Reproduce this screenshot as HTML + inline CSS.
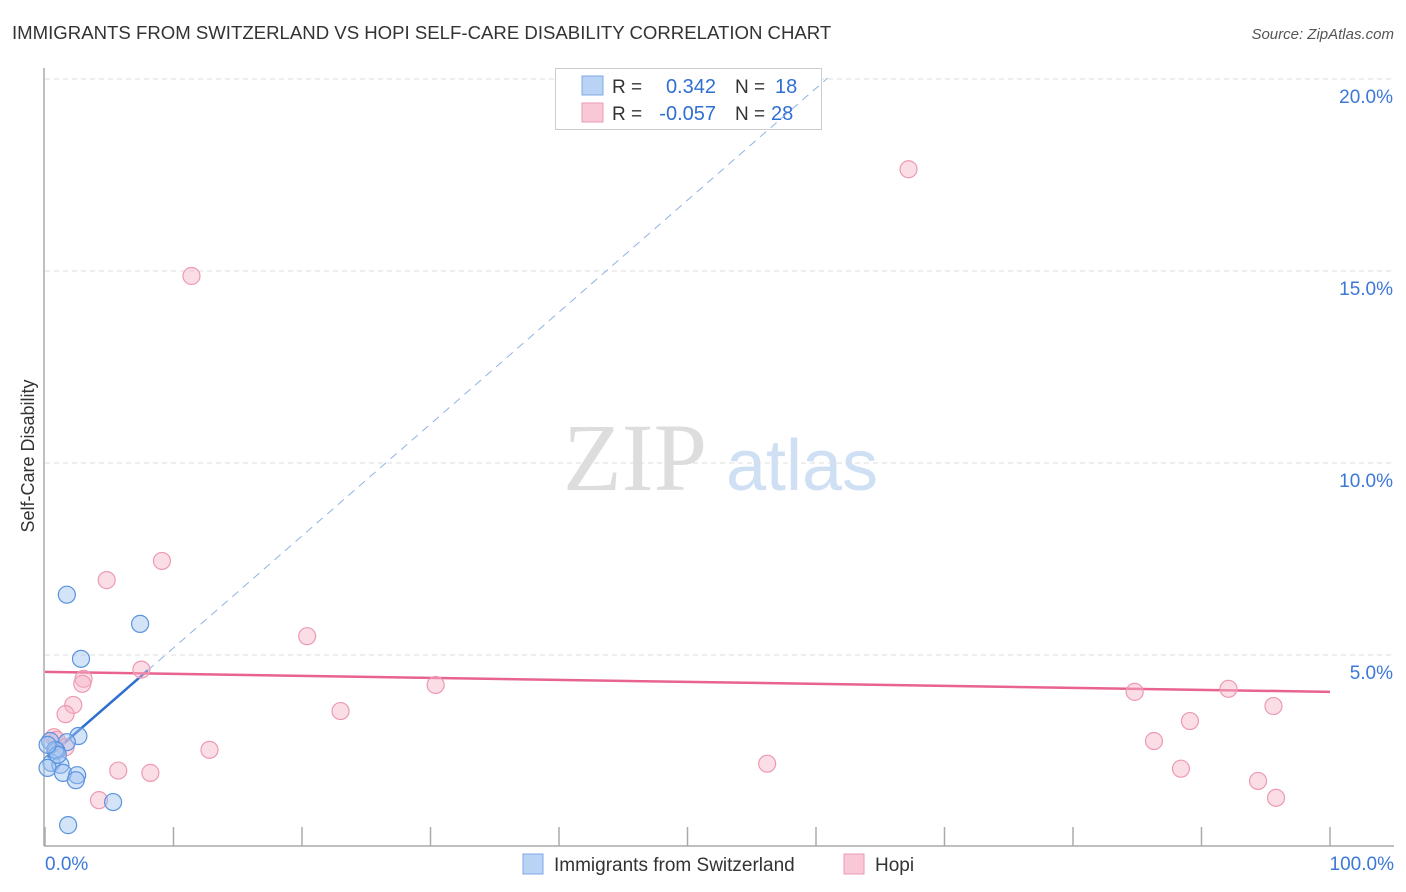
<!DOCTYPE html>
<html><head><meta charset="utf-8"><style>
body{margin:0;background:#fff;font-family:"Liberation Sans",sans-serif;}
#wrap{position:relative;width:1406px;height:892px;overflow:hidden;}
</style></head><body>
<div id="wrap">
<svg id="svg" width="1406" height="892" xmlns="http://www.w3.org/2000/svg" font-family="Liberation Sans, sans-serif">
<text x="12" y="39" font-size="18.6" fill="#333">IMMIGRANTS FROM SWITZERLAND VS HOPI SELF-CARE DISABILITY CORRELATION CHART</text>
<text x="1394" y="39" font-size="15" fill="#555" font-style="italic" text-anchor="end">Source: ZipAtlas.com</text>
<text x="0" y="0" transform="translate(34,456) rotate(-90)" font-size="18" fill="#333" text-anchor="middle">Self-Care Disability</text>
<g>
<text x="635" y="490" font-size="96" fill="#ddd" font-family="Liberation Serif, serif" text-anchor="middle">ZIP</text>
<text x="802" y="490" font-size="72" fill="#cfe0f5" text-anchor="middle">atlas</text>
</g>
<g id="grid"></g><g id="axes"></g>
<g>
<rect x="555.5" y="68.5" width="266" height="61" fill="#fff" stroke="#ccc"/>
<rect x="582" y="76" width="21" height="19" fill="#b9d3f5" stroke="#7eaae6"/>
<rect x="582" y="103" width="21" height="19" fill="#f9c8d6" stroke="#ec9ab3"/>
<text x="612" y="93" font-size="19" fill="#333">R = </text><text x="716" y="93" font-size="20" fill="#2f6fd1" text-anchor="end">0.342</text>
<text x="735" y="93" font-size="19" fill="#333">N = </text><text x="775" y="93" font-size="20" fill="#2f6fd1">18</text>
<text x="612" y="120" font-size="19" fill="#333">R = </text><text x="716" y="120" font-size="20" fill="#2f6fd1" text-anchor="end">-0.057</text>
<text x="735" y="120" font-size="19" fill="#333">N = </text><text x="771" y="120" font-size="20" fill="#2f6fd1">28</text>
</g>
<g id="lines"></g><g id="pts"></g>
<g>
<rect x="523" y="854" width="20" height="20" fill="#b9d3f5" stroke="#7eaae6"/>
<text x="554" y="871" font-size="19" fill="#333">Immigrants from Switzerland</text>
<rect x="844" y="854" width="20" height="20" fill="#f9c8d6" stroke="#ec9ab3"/>
<text x="875" y="871" font-size="19" fill="#333">Hopi</text>
</g>
</svg>
</div>
<script>
const yTicks=[5,10,15,20];
const xTickLabels=["0.0%","100.0%"];
const blueX=[1.7,7.4,2.8,2.6,1.7,0.4,0.9,0.5,1.2,0.2,1.4,2.5,2.4,5.3,1.8,0.8,1.0,0.2];
const blueY=[6.57,5.81,4.90,2.89,2.73,2.76,2.50,2.19,2.14,2.06,1.93,1.87,1.74,1.17,0.57,2.53,2.40,2.66];
const pinkX=[67.2,11.4,9.1,4.8,20.4,7.5,3.0,2.9,30.4,2.2,1.6,23.0,12.8,0.7,0.9,5.7,8.2,4.2,56.2,84.8,92.1,95.6,89.1,86.3,88.4,94.4,95.8,1.6];
const pinkY=[17.65,14.87,7.45,6.95,5.49,4.62,4.38,4.25,4.22,3.70,3.46,3.54,2.53,2.86,2.79,1.99,1.93,1.22,2.17,4.04,4.12,3.67,3.28,2.76,2.04,1.72,1.28,2.60];
const blueFit=[2.27,0.2915]; // intercept, slope
const pinkFit=[4.56,-0.0052];
const L=45,R=1330,B=847,T=79;
const sx=v=>L+(R-L)*v/100, sy=v=>B-(B-T)*v/20;
const NS="http://www.w3.org/2000/svg";
function mk(tag,attrs,parent){const e=document.createElementNS(NS,tag);for(const k in attrs)e.setAttribute(k,attrs[k]);document.getElementById(parent).appendChild(e);return e;}
yTicks.forEach(t=>{
 const g=mk('line',{x1:L,x2:1394,y1:sy(t),y2:sy(t),stroke:'#ddd','stroke-dasharray':'5,4'},'grid');
 
 
 const tx=mk('text',{x:1393,y:sy(t)+24,'font-size':19,fill:'#3b78d8','text-anchor':'end'},'grid');
 tx.textContent=t.toFixed(1)+'%';
 
 
});
const ya=mk('line',{x1:44,x2:44,y1:68,y2:846,stroke:'#aaa','stroke-width':1.5},'axes');


const xa=mk('line',{x1:44,x2:1394,y1:846,y2:846,stroke:'#aaa','stroke-width':1.5},'axes');


for(let i=0;i<=10;i++){const l=mk('line',{x1:sx(i*10),x2:sx(i*10),y1:827,y2:846,stroke:'#aaa','stroke-width':1.5},'axes');
 
 }
[[0,'start',45],[100,'end',1394]].forEach((a,i)=>{const t=mk('text',{x:a[2],y:870,'font-size':19,fill:'#3b78d8','text-anchor':a[1]},'axes');t.textContent=xTickLabels[i];
 
 });
const bEnd=8.0, bDash=60.9;
let l1=mk('line',{x1:sx(0.2),y1:sy(blueFit[0]+blueFit[1]*0.2),x2:sx(bEnd),y2:sy(blueFit[0]+blueFit[1]*bEnd),stroke:'#2f6fd1','stroke-width':2.5},'lines');


let l2=mk('line',{x1:sx(bEnd),y1:sy(blueFit[0]+blueFit[1]*bEnd),x2:sx(bDash),y2:sy(blueFit[0]+blueFit[1]*bDash),stroke:'#8fb3e6','stroke-width':1,'stroke-dasharray':'8,6'},'lines');


let l3=mk('line',{x1:sx(0),y1:sy(pinkFit[0]),x2:sx(100),y2:sy(pinkFit[0]+pinkFit[1]*100),stroke:'#e8638f','stroke-width':2.5},'lines');


pinkX.forEach((x,i)=>{const c=mk('circle',{cx:sx(x),cy:sy(pinkY[i]),r:8.5,fill:'rgba(246,180,200,0.45)',stroke:'#ec9ab3','stroke-width':1.2},'pts');
 
 });
blueX.forEach((x,i)=>{const c=mk('circle',{cx:sx(x),cy:sy(blueY[i]),r:8.5,fill:'rgba(160,195,240,0.45)',stroke:'#5b93de','stroke-width':1.2},'pts');
 
 });
</script>
</body></html>
